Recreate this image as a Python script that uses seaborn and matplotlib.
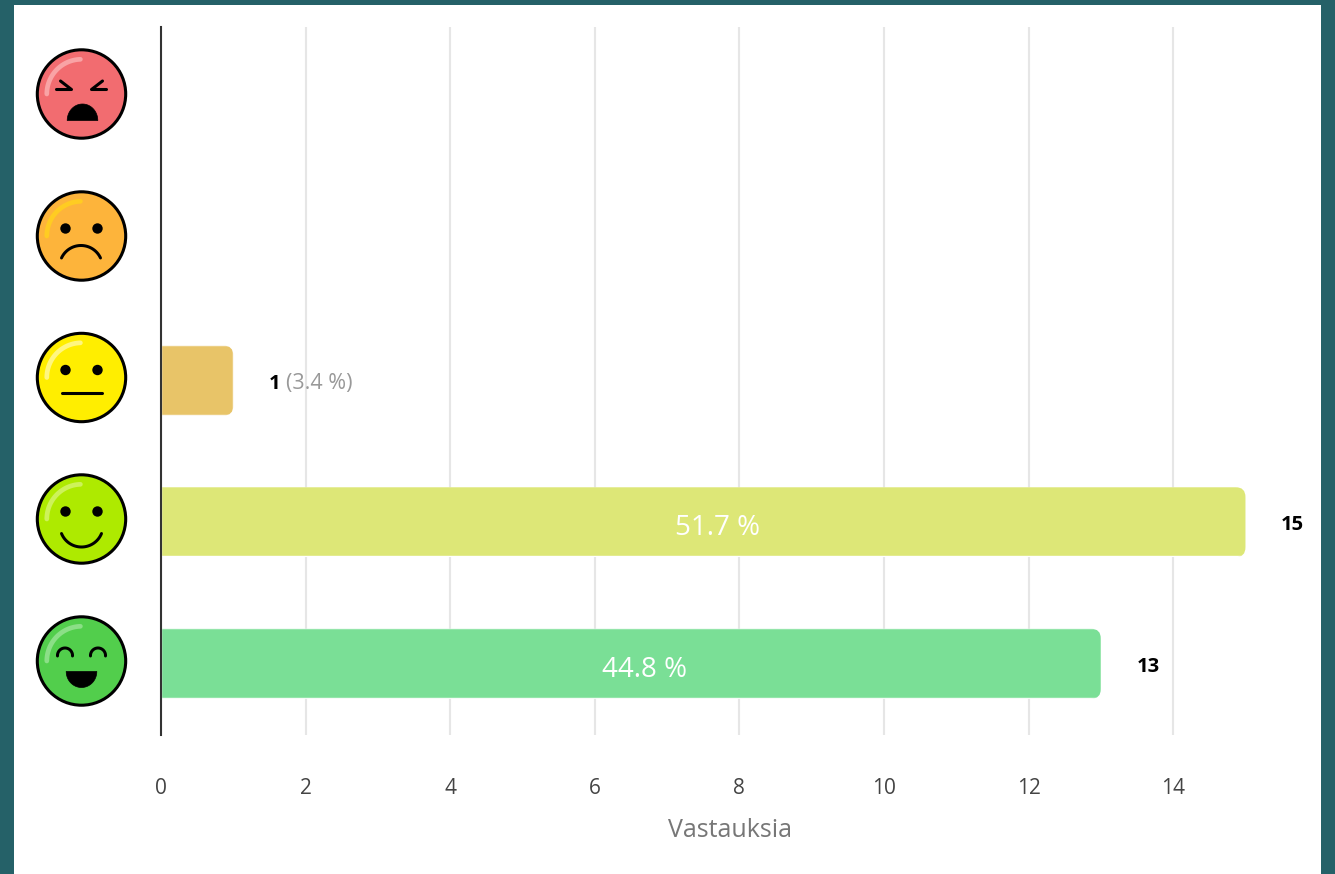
import numpy as np
import pandas as pd
import matplotlib
matplotlib.use('Agg')
import matplotlib.pyplot as plt
from matplotlib.patches import Circle, FancyBboxPatch, Polygon, Rectangle
from matplotlib.transforms import IdentityTransform
import seaborn as sns

moods = ['angry', 'sad', 'neutral', 'happy', 'laugh']
counts = [0, 0, 1, 15, 13]
percents = [0.0, 0.0, 3.4, 51.7, 44.8]
bar_colors = ['#F46D6F', '#FDB43B', '#E8C468', '#DDE777', '#7ADF96']
face_colors = ['#F26C70', '#FDB43B', '#FFEE00', '#AEEA00', '#52CE4C']
shine_colors = ['#F9A3A5', '#FFCC22', '#FFF680', '#CDF25A', '#8BDF87']
x_ticks = [0, 2, 4, 6, 8, 10, 12, 14]
x_title = 'Vastauksia'

W, H = 1335, 874
TEAL = '#256168'

sns.set_theme(style='white')
plt.rcParams['font.family'] = ['Open Sans', 'DejaVu Sans']


def curve(ax, cx, cy, x0, x1, y_end, y_peak, lw=3):
    # circular arc through both ends and the peak
    half = (x1 - x0) / 2
    sag = abs(y_peak - y_end)
    r = (half ** 2 + sag ** 2) / (2 * sag)
    alpha = 2 * np.arctan2(sag, half)
    th = np.linspace(-alpha, alpha, 60)
    direction = np.sign(y_end - y_peak)
    xs = cx + (x0 + x1) / 2 + r * np.sin(th)
    ys = cy + y_peak + direction * r * (1 - np.cos(th))
    ax.plot(xs, ys, color='black', lw=lw * 0.72, solid_capstyle='round')


def dome(ax, cx, cy, half_w, base, height):
    t = np.linspace(0, np.pi, 40)
    pts = np.column_stack([cx + half_w * np.cos(t), cy + base + height * np.sin(t)])
    ax.add_patch(Polygon(pts, closed=True, fc='black', ec='black', lw=0.5, joinstyle='round'))


def draw_face(ax, cx, cy, mood, face, shine):
    ax.add_patch(Circle((cx, cy), 44.2, fc=face, ec='black', lw=2.2))
    t = np.linspace(np.pi * 1.0, np.pi * 1.49, 30)
    ax.plot(cx + 34.7 * np.cos(t), cy + 34.7 * np.sin(t), color=shine, lw=3.4,
            solid_capstyle='round')
    if mood == 'angry':
        for s in (-1, 1):
            ax.plot([cx + s * 25, cx + s * 10, cx + s * 21],
                    [cy - 4.5, cy - 4.5, cy - 13], color='black', lw=2.2,
                    solid_capstyle='round', solid_joinstyle='round')
        dome(ax, cx + 1, cy, 15.3, 26.5, -16.5)
        return
    if mood == 'laugh':
        curve(ax, cx, cy, -24, -9, -5, -13)
        curve(ax, cx, cy, 9, 24, -5, -13)
        dome(ax, cx, cy, 15.3, 10.5, 16)
        return
    for s in (-1, 1):
        ax.add_patch(Circle((cx + s * 16, cy - 7.5), 5.2, fc='black', ec='none'))
    if mood == 'sad':
        curve(ax, cx, cy, -20, 19, 22, 9.5)
    elif mood == 'neutral':
        ax.plot([cx - 20, cx + 20], [cy + 15, cy + 15], color='black', lw=2.2,
                solid_capstyle='round')
    elif mood == 'happy':
        curve(ax, cx, cy, -20, 20, 14.5, 28)


fig = plt.figure(figsize=(W / 100, H / 100), dpi=100, facecolor=TEAL)

# pixel space layer for the white card and the icons
bg = fig.add_axes([0, 0, 1, 1], zorder=0)
bg.set_xlim(0, W)
bg.set_ylim(H, 0)
bg.axis('off')
bg.add_patch(Rectangle((14, 5), 1307, H - 5, fc='white', ec='none'))
face_y = [94, 236, 377.5, 519, 661]
for mood, fc, sc, fy in zip(moods, face_colors, shine_colors, face_y):
    draw_face(bg, 81.5, fy, mood, fc, sc)

left, right, top, bottom = 161, 1245.5, 27, 735
ax = fig.add_axes([left / W, 1 - bottom / H, (right - left) / W, (bottom - top) / H], zorder=1)
ax.patch.set_alpha(0)

df = pd.DataFrame({'mood': moods, 'count': counts})
sns.barplot(data=df, x='count', y='mood', hue='mood', palette=bar_colors, order=moods,
            hue_order=moods, width=0.495, legend=False, saturation=1, ax=ax)
ax.set_xlim(0, 15)
ax.set_ylim(4.51, -0.49)

ax.set_xticks(x_ticks)
ax.set_yticks([])
ax.set_ylabel('')
ax.set_xlabel(x_title, fontsize=18, color='#777777', va='center')
ax.xaxis.set_label_coords(0.5247, -0.135)
ax.tick_params(axis='x', length=0, pad=31, labelsize=15, labelcolor='#444444')
ax.grid(axis='x', color='#E6E6E6', lw=1.5)
ax.set_axisbelow(True)
sns.despine(ax=ax, left=False, right=True, top=True, bottom=True)
ax.spines['left'].set_color('#333333')
ax.spines['left'].set_linewidth(1.5)
ax.spines['left'].set_zorder(5)

# round the bar ends, clipping in pixels so the corners stay circular
for container, n in zip(ax.containers, counts):
    for bar in container:
        if n == 0:
            continue
        box = bar.get_window_extent()
        clip = FancyBboxPatch((box.xmin - 20, box.ymin - 1), abs(box.width) + 20, abs(box.height),
                              boxstyle='round,pad=0,rounding_size=10',
                              transform=IdentityTransform())
        bar.set_clip_path(clip)

for i, (n, p) in enumerate(zip(counts, percents)):
    if n == 0:
        continue
    ax.annotate(str(n), (n, i), xytext=(25.5, -3), textcoords='offset points',
                ha='left', va='center', fontsize=14.5, fontweight='bold', color='black',
                annotation_clip=False)
    if p < 10:
        ax.annotate(f'({p} %)', (n, i), xytext=(38, -2.5), textcoords='offset points',
                    ha='left', va='center', fontsize=15.5, color='#999999',
                    annotation_clip=False)
    else:
        ax.annotate(f'{p} %', (n / 2, i), xytext=(10, -5), textcoords='offset points',
                    ha='center', va='center', fontsize=20, color='white',
                    annotation_clip=False)

fig.savefig('out.png', dpi=100, facecolor=TEAL)
